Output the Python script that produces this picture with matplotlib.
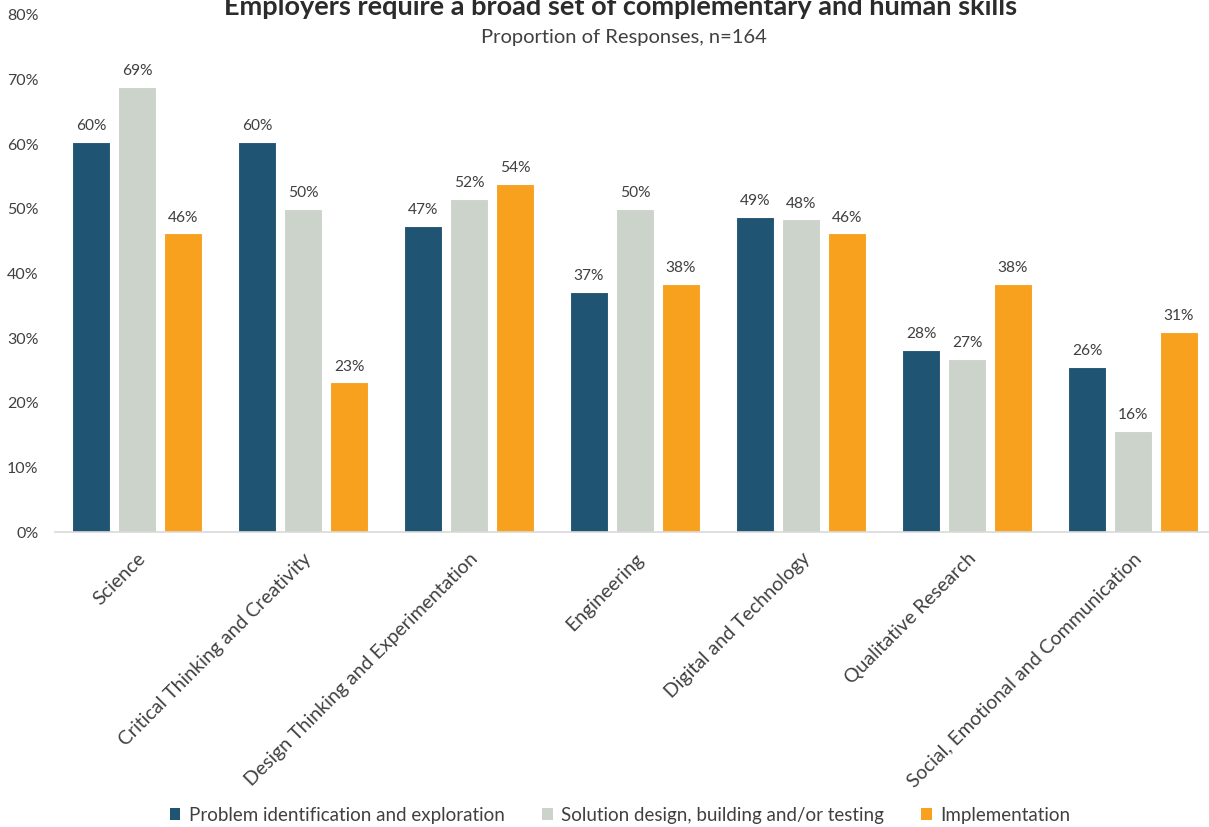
import matplotlib
matplotlib.use("Agg")
import matplotlib.pyplot as plt
import numpy as np
from matplotlib.patches import Patch

plt.rcParams['font.family'] = ['Lato', 'DejaVu Sans']

categories = [
    "Science",
    "Critical Thinking and Creativity",
    "Design Thinking and Experimentation",
    "Engineering",
    "Digital and Technology",
    "Qualitative Research",
    "Social, Emotional and Communication",
]
series_names = [
    "Problem identification and exploration",
    "Solution design, building and/or testing",
    "Implementation",
]
problem_identification = [60.4, 60.4, 47.4, 37.2, 48.8, 28.2, 25.6]
solution_design = [68.9, 50.0, 51.6, 50.0, 48.4, 26.8, 15.7]
implementation = [46.2, 23.2, 53.9, 38.4, 46.2, 38.4, 31.0]

colors = ["#1F5473", "#CCD3CA", "#F7A11F"]
text_color = "#404040"

fig = plt.figure(figsize=(12.09, 8.27), dpi=100)
ax = fig.add_axes([55 / 1209, 1 - 532 / 827, 1 - 55 / 1209, (532 - 15) / 827])

x = np.arange(len(categories))
width = 0.225
step = 0.277
for i, (vals, color) in enumerate(zip([problem_identification, solution_design, implementation], colors)):
    pos = x + (i - 1) * step
    ax.bar(pos, vals, width=width, color=color, edgecolor="white", linewidth=0.8, zorder=2)
    for xp, v in zip(pos, vals):
        ax.text(xp, v + 1.3, f"{v:.0f}%", ha="center", va="bottom", fontsize=11.2, color=text_color)

ax.set_xlim(-0.494, 6.458)
ax.set_ylim(0, 80)
ax.set_yticks(np.arange(0, 81, 10))
ax.set_yticklabels([f"{t}%" for t in range(0, 81, 10)], fontsize=11.5, color=text_color)
ax.set_xticks(x)
ax.set_xticklabels(categories, rotation=45, ha="right", va="top", rotation_mode="anchor",
                   fontsize=14, color=text_color)
ax.tick_params(axis="both", length=0)
ax.tick_params(axis="y", pad=12)
ax.tick_params(axis="x", pad=13)
for side in ["top", "right", "left"]:
    ax.spines[side].set_visible(False)
ax.spines["bottom"].set_color("#D9D9D9")
ax.spines["bottom"].set_linewidth(1.2)
ax.patch.set_alpha(0)

fig.text(0.513, 1 - 15 / 827, "Employers require a broad set of complementary and human skills",
         ha="center", va="baseline", fontsize=19.5, fontweight="bold", color="#2B2B2B")
fig.text(0.516, 1 - 37 / 827, "Proportion of Responses, n=164",
         ha="center", va="center", fontsize=14.5, color=text_color)

handles = [Patch(facecolor=c, edgecolor="none") for c in colors]
fig.legend(handles, series_names, loc="center", bbox_to_anchor=(0.513, 1 - 815 / 827), ncol=3,
           frameon=False, fontsize=13.5, handlelength=0.55, handleheight=0.55, handletextpad=0.45,
           columnspacing=2.0, labelcolor=text_color)

fig.savefig("out.png", dpi=100)
